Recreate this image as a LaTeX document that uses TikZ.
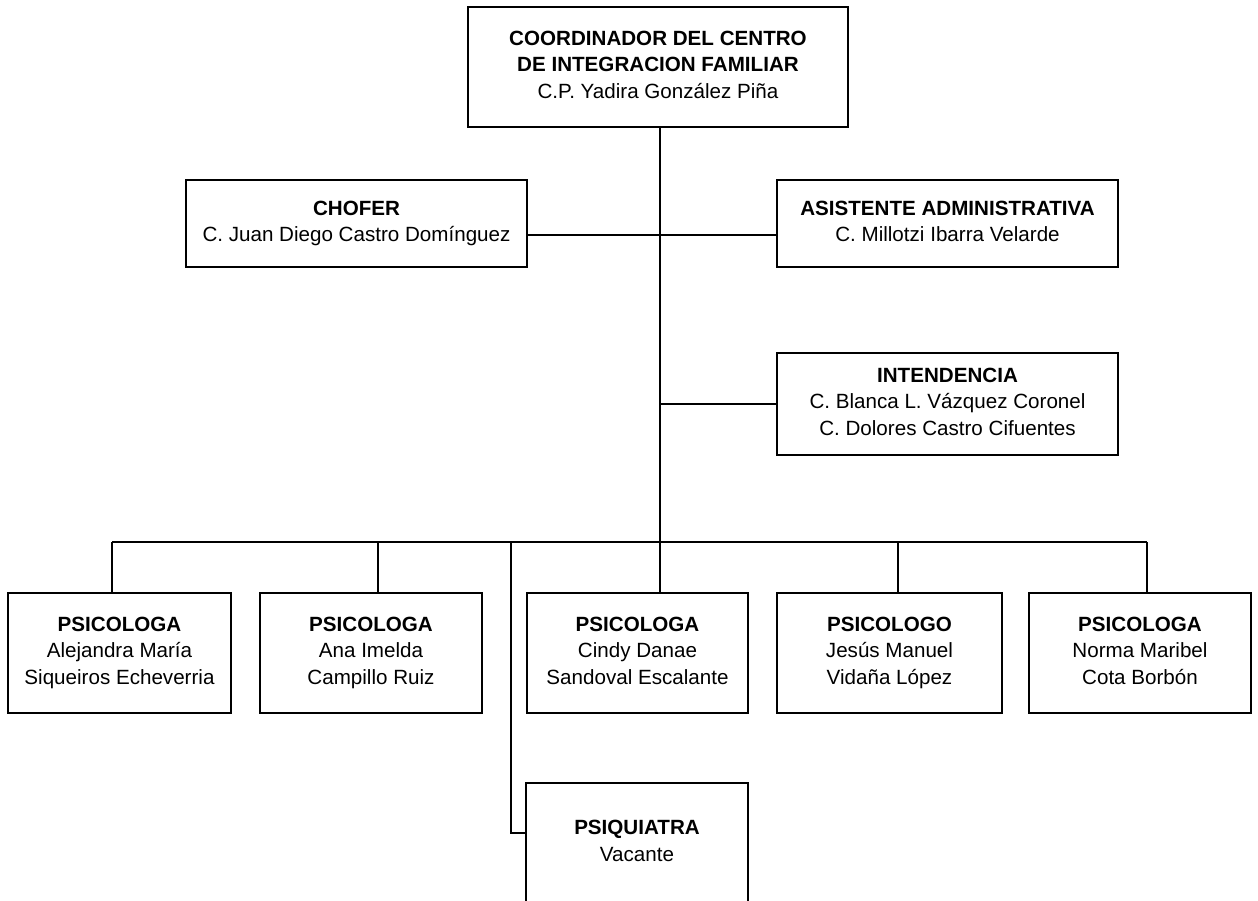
\documentclass[tikz,border=0pt]{standalone}
\usepackage{fontspec}
\setmainfont{Liberation Sans}
\newcommand\orgstrut{\rule[-4.5pt]{0pt}{25pt}}
\tikzset{
  orgbox/.style={draw,line width=1.3pt,fill=white,align=center,inner sep=0pt,
    font=\fontsize{20.6}{26.5}\selectfont,
    execute at begin node=\orgstrut,execute at end node=\orgstrut},
  orgline/.style={line width=1.3pt}
}
\begin{document}
\begin{tikzpicture}[x=1pt,y=-1pt]
\useasboundingbox (0,0) rectangle (1258,901);

% Coordinacion
\node[orgbox,minimum width=380,minimum height=120] (coord) at (658,67)
  {\textbf{COORDINADOR DEL CENTRO}\\\textbf{DE INTEGRACION FAMILIAR}\\C.P. Yadira González Piña};

% Apoyo
\node[orgbox,minimum width=341,minimum height=87] (chofer) at (356.5,223.5)
  {\textbf{CHOFER}\\C. Juan Diego Castro Domínguez};
\node[orgbox,minimum width=341,minimum height=87] (asist) at (947.5,223.5)
  {\textbf{ASISTENTE ADMINISTRATIVA}\\C. Millotzi Ibarra Velarde};
\node[orgbox,minimum width=341,minimum height=102] (inten) at (947.5,404)
  {\textbf{INTENDENCIA}\\C. Blanca L. Vázquez Coronel\\C. Dolores Castro Cifuentes};

% Psicologos
\node[orgbox,minimum width=223,minimum height=120] (ps1) at (119.5,653)
  {\textbf{PSICOLOGA}\\Alejandra María\\Siqueiros Echeverria};
\node[orgbox,minimum width=222,minimum height=120] (ps2) at (371,653)
  {\textbf{PSICOLOGA}\\Ana Imelda\\Campillo Ruiz};
\node[orgbox,minimum width=221,minimum height=120] (ps3) at (637.5,653)
  {\textbf{PSICOLOGA}\\Cindy Danae\\Sandoval Escalante};
\node[orgbox,minimum width=225,minimum height=120] (ps4) at (889.5,653)
  {\textbf{PSICOLOGO}\\Jesús Manuel\\Vidaña López};
\node[orgbox,minimum width=222,minimum height=120] (ps5) at (1140,653)
  {\textbf{PSICOLOGA}\\Norma Maribel\\Cota Borbón};

% Psiquiatra (cut by the page edge)
\node[orgbox,minimum width=222,minimum height=120] (psiq) at (637,843)
  {\textbf{PSIQUIATRA}\\Vacante};

% Joints
\coordinate (hub) at (660,542);
\coordinate (cjoin) at (660,235);
\coordinate (busL) at (112,542);
\coordinate (bus2) at (378,542);
\coordinate (busQ) at (511,542);
\coordinate (bus4) at (898,542);
\coordinate (busR) at (1147,542);
\coordinate (qjoin) at (511,833);

% Lines
\draw[orgline] (hub |- coord.south) -- (hub);
\draw[orgline] (cjoin -| chofer.east) -- (cjoin -| asist.west);
\draw[orgline] (inten.west) -- (inten.west -| hub);
\draw[orgline] (busL) -- (busR);
\draw[orgline] (busL) -- (busL |- ps1.north);
\draw[orgline] (bus2) -- (bus2 |- ps2.north);
\draw[orgline] (hub) -- (hub |- ps3.north);
\draw[orgline] (bus4) -- (bus4 |- ps4.north);
\draw[orgline] (busR) -- (busR |- ps5.north);
\draw[orgline] (busQ) -- (qjoin) -- (qjoin -| psiq.west);

\end{tikzpicture}
\end{document}
